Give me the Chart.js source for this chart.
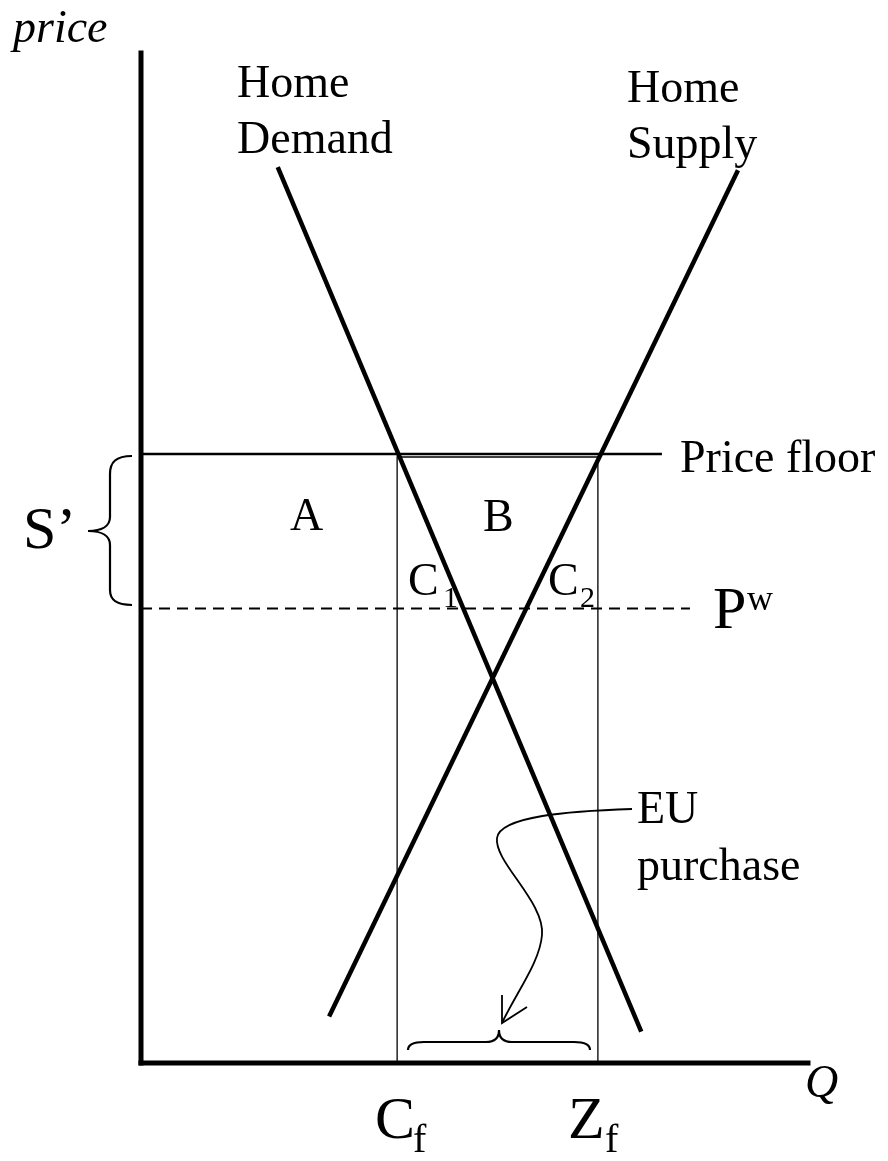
<!DOCTYPE html>
<html>
<head>
<meta charset="utf-8">
<script src="https://cdn.jsdelivr.net/npm/chart.js@4"></script>
<style>
  html, body { margin: 0; padding: 0; background: #fff; }
  canvas { display: block; }
</style>
</head>
<body>
<canvas id="floorChart" width="888" height="1161"></canvas>
<script>
// values (Q and price on a 0..100 scale)
const demandQ = [20.5, 75.0];
const demandP = [88.7, 3.1];
const supplyQ = [28.2, 89.5];
const supplyP = [4.6, 88.4];
const priceFloor = 60.3;
const worldPrice = 45.0;
const floorEndQ = 78.1;
const worldEndQ = 82.3;
const cfQ = 38.4;   // C_f
const zfQ = 68.5;   // Z_f
const boxTop = 60.0;

const pts = (xs, ys) => xs.map((x, i) => ({ x: x, y: ys[i] }));

const line = (data, width, dash) => ({
    data: data,
    showLine: true,
    borderColor: '#000',
    borderWidth: width,
    borderDash: dash || [],
    pointRadius: 0,
    fill: false,
    clip: false
});

const ctx = document.getElementById('floorChart');

const data = {
    datasets: [
        // axes
        Object.assign(line(pts([0, 0], [0, 100]), 5), { borderCapStyle: 'square' }),
        Object.assign(line(pts([0, 100], [0, 0]), 5), { borderCapStyle: 'square' }),
        // price floor + world price
        line(pts([0, floorEndQ], [priceFloor, priceFloor]), 2.5),
        line(pts([0, worldEndQ], [worldPrice, worldPrice]), 2, [11, 7]),
        // C_f .. Z_f box
        line(pts([cfQ, cfQ, zfQ, zfQ], [0, boxTop, boxTop, 0]), 1.3),
        // demand and supply
        line(pts(demandQ, demandP), 4.5),
        line(pts(supplyQ, supplyP), 4.5)
    ]
};

const serif = '"Liberation Serif", "Times New Roman", serif';

function txt(c, s, x, y, size, italic) {
    c.font = (italic ? 'italic ' : '') + size + 'px ' + serif;
    c.fillText(s, x, y);
}

// labels, braces and the EU arrow
const notes = {
    id: 'notes',
    afterDatasetsDraw(chart) {
        const c = chart.ctx;
        c.save();
        c.fillStyle = '#000';
        c.strokeStyle = '#000';
        c.textBaseline = 'alphabetic';

        txt(c, 'price', 13, 42, 46, true);
        txt(c, 'Home', 237, 97, 46);
        txt(c, 'Demand', 237, 153, 46);
        txt(c, 'Home', 627, 102, 46);
        txt(c, 'Supply', 627, 158, 46);
        txt(c, 'Price floor', 680, 472, 46);
        txt(c, 'A', 290, 530, 46);
        txt(c, 'B', 483, 531, 46);
        txt(c, 'C', 408, 595, 46);
        txt(c, '1', 443, 607, 30);
        txt(c, 'C', 548, 595, 46);
        txt(c, '2', 580, 607, 30);
        txt(c, 'P', 713, 628, 60);
        txt(c, 'w', 747, 610, 36);
        txt(c, 'S\u2019', 23, 548, 60);
        txt(c, 'EU', 637, 823, 46);
        txt(c, 'purchase', 637, 880, 46);
        txt(c, 'C', 375, 1138, 60);
        txt(c, 'f', 413, 1152, 40);
        txt(c, 'Z', 568, 1138, 60);
        txt(c, 'f', 605, 1152, 40);
        txt(c, 'Q', 805, 1097, 46, true);

        // S' brace
        c.lineWidth = 2.2;
        c.beginPath();
        c.moveTo(132, 456);
        c.bezierCurveTo(116, 456, 110, 462, 110, 474);
        c.lineTo(110, 517);
        c.bezierCurveTo(110, 526, 102, 531, 88, 531);
        c.bezierCurveTo(102, 531, 110, 536, 110, 545);
        c.lineTo(110, 590);
        c.bezierCurveTo(110, 600, 116, 605, 132, 605);
        c.stroke();

        // bottom brace
        c.beginPath();
        c.moveTo(408, 1050);
        c.bezierCurveTo(408, 1045, 413, 1042, 424, 1042);
        c.lineTo(486, 1042);
        c.bezierCurveTo(494, 1042, 499, 1038, 499, 1030);
        c.bezierCurveTo(499, 1038, 504, 1042, 512, 1042);
        c.lineTo(574, 1042);
        c.bezierCurveTo(585, 1042, 590, 1045, 590, 1050);
        c.stroke();

        // EU purchase arrow
        c.lineWidth = 1.8;
        c.beginPath();
        c.moveTo(632, 809);
        c.bezierCurveTo(570, 811, 500, 816, 497, 838);
        c.bezierCurveTo(494, 862, 545, 902, 542, 935);
        c.bezierCurveTo(540, 962, 516, 993, 502, 1023);
        c.stroke();
        c.beginPath();
        c.moveTo(502, 995);
        c.lineTo(502, 1023);
        c.lineTo(527, 1007);
        c.stroke();

        c.restore();
    }
};

const options = {
    responsive: false,
    animation: false,
    devicePixelRatio: 1,
    layout: { padding: { left: 141, right: 80, top: 53, bottom: 98 } },
    scales: {
        x: { type: 'linear', min: 0, max: 100, display: false },
        y: { type: 'linear', min: 0, max: 100, display: false }
    },
    plugins: { legend: { display: false }, tooltip: { enabled: false } }
};

new Chart(ctx, {
    type: 'scatter',
    data: data,
    options: options,
    plugins: [notes]
});
</script>
</body>
</html>
